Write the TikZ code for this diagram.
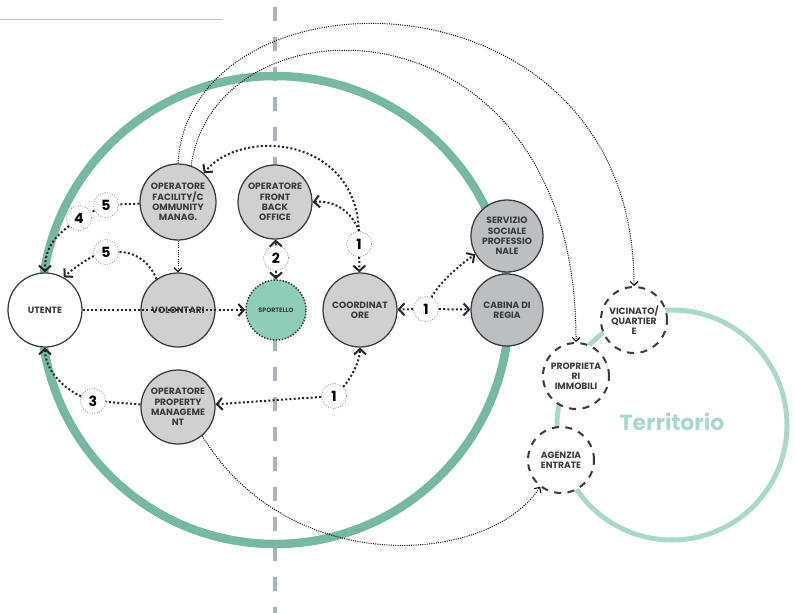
\documentclass[tikz,border=0pt]{standalone}
\usepackage{fontspec}
\setmainfont{Poppins}
\usetikzlibrary{arrows.meta}
\definecolor{ink}{HTML}{3A3A3A}
\definecolor{mint}{HTML}{76B9A0}
\definecolor{palemint}{HTML}{AAD9C9}
\definecolor{desk}{HTML}{8ECDB8}
\definecolor{cloud}{HTML}{D0D0D0}
\definecolor{steel}{HTML}{BCBEC1}
\definecolor{axis}{HTML}{AAB2BE}

\begin{document}
\begin{tikzpicture}[x=0.2mm, y=-0.2mm,
  main/.style = {draw=ink, circle, fill=cloud, line width=0.25mm, minimum size=14.8mm, inner sep=0pt, align=center, font=\fontsize{5.2}{5.8}\selectfont\bfseries, text=ink},
  dark/.style = {main, fill=steel, minimum size=14.4mm},
  ext/.style = {main, fill=white, dash pattern=on 1.4mm off 1.3mm, line width=0.4mm, minimum size=13.2mm},
  num/.style = {draw=ink!70, circle, fill=white, dash pattern=on 0.15mm off 0.35mm, line width=0.15mm, minimum size=5mm, inner sep=0pt, font=\fontsize{8}{8}\selectfont\bfseries, text=black},
  link/.style = {draw=black!85, line width=0.4mm, dash pattern=on 0.4mm off 0.45mm},
  trace/.style = {draw=black, line width=0.2mm, dash pattern=on 0.2mm off 0.25mm},
  arr/.style = {-{Straight Barb[length=1.1mm,width=2.4mm]}},
  tarr/.style = {-{Straight Barb[length=0.8mm,width=1.6mm]}}]
\useasboundingbox (0,0) rectangle (795,613);
\draw[black!25, line width=0.2mm] (0,20) -- (223,20);
\draw[axis, line width=0.8mm, dash pattern=on 2.8mm off 3.2mm] (275,7) -- (275,613);
\draw[mint, line width=1.7mm] (275,310) circle [radius=234];
\draw[palemint, line width=1mm] (672,425) circle [radius=115];
\node[font=\fontsize{12.5}{12.5}\selectfont\bfseries, text=palemint] (terr) at (672,422) {Territorio};

\node[main, fill=white] (utente) at (45,310) {UTENTE};
\node[main, minimum size=15.2mm] (facility) at (178,202) {OPERATORE\\FACILITY/C\\OMMUNITY\\MANAG.};
\node[main] (volontari) at (178,310) {VOLONTARI};
\node[main] (front) at (275,202) {OPERATORE\\FRONT\\BACK\\OFFICE};
\node[main, fill=desk, minimum size=12mm, dash pattern=on 0.3mm off 0.3mm, line width=0.3mm, font=\fontsize{3.6}{4}\selectfont\bfseries] (sportello) at (276,310) {SPORTELLO};
\node[main] (coord) at (360,310) {COORDINAT\\ORE};
\node[main] (property) at (178,407) {OPERATORE\\PROPERTY\\MANAGEME\\NT};
\node[dark] (servizio) at (507,236) {SERVIZIO\\SOCIALE\\PROFESSIO\\NALE};
\node[dark] (cabina) at (507,310) {CABINA DI\\REGIA};
\node[ext] (vicinato) at (634,320) {VICINATO/\\QUARTIER\\E};
\node[ext] (proprieta) at (576,376) {PROPRIETA\\RI\\IMMOBILI};
\node[ext] (agenzia) at (561,460) {AGENZIA\\ENTRATE};

\node[num] (f5) at (106,205) {5};
\node[num] (f4) at (79,218) {4};
\node[num] (v5) at (106,252) {5};
\node[num] (s2) at (276,258) {2};
\node[num] (c1) at (359,244) {1};
\node[num] (r1) at (426,309) {1};
\node[num] (p3) at (93,401) {3};
\node[num] (p1) at (334,396) {1};

\draw[link] (facility) -- (f5);
\draw[link] (f5) -- (f4);
\draw[link, arr] (f4) .. controls +(-25,20) and +(0,-25) .. (utente.north);
\draw[link] (volontari.125) .. controls (150,262) and (135,252) .. (v5);
\draw[link, arr] (v5) .. controls +(-15,5) and +(10,-10) .. (utente.60);
\draw[link, arr] (utente) -- (sportello);
\draw[trace, tarr] (facility) -- (volontari);
\draw[link, arr] (s2) -- (front);
\draw[link, arr] (s2) -- (sportello);
\draw[link, arr] (c1) -- (coord);
\draw[link, arr] (c1.north) .. controls (352,212) and (335,200) .. (front.east);
\draw[link, arr] (c1.north) .. controls (355,135) and (240,128) .. (facility.48);
\draw[link, arr] (r1) -- (coord);
\draw[link, arr] (r1) -- (cabina);
\draw[link, arr] (r1) .. controls +(12,-25) and +(-15,10) .. (servizio.210);
\draw[link, arr] (p1) .. controls +(15,-15) and +(0,15) .. (coord.south);
\draw[link, arr] (p1) -- (property);
\draw[link] (property) -- (p3);
\draw[link, arr] (p3) .. controls +(-25,-10) and +(0,25) .. (utente.south);
\draw[trace, tarr] (facility.north) .. controls (190,-40) and (634,-40) .. (vicinato.north);
\draw[trace, tarr] (facility.70) .. controls (215,-10) and (577,-10) .. (proprieta.north);
\draw[trace, tarr] (property.-50) .. controls (290,580) and (490,565) .. (agenzia.232);
\end{tikzpicture}
\end{document}
